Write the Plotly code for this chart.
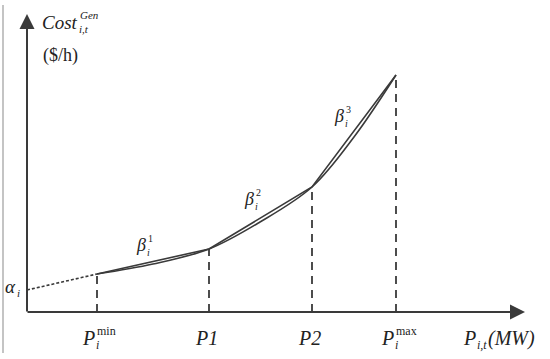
import plotly.graph_objects as go

# breakpoints of the piecewise linearisation (MW, $/h)
p_break = [70, 182, 285, 369]
cost_break = [38, 63, 125, 237]
p_labels = ["P", "P1", "P2", "P"]
p_sup = ["min", "", "", "max"]
p_sub = ["i", "", "", "i"]
alpha = 22

# the real (convex) cost curve
curve_p = [70, 126, 182, 233, 285, 327, 369]
curve_cost = [38, 48, 63, 90, 125, 175, 237]

# slope labels
beta_sup = ["1", "2", "3"]
beta_x = [121, 229, 319]
beta_y = [67, 113, 196]

INK = "#3a3a3a"
FONT = "Liberation Serif"

fig = go.Figure()

# dotted extension down to the intercept
fig.add_trace(go.Scatter(x=[0, p_break[0]], y=[alpha, cost_break[0]], mode="lines",
                         line=dict(color=INK, width=1.6, dash="3px,2px"), hoverinfo="skip"))
# chords
fig.add_trace(go.Scatter(x=p_break, y=cost_break, mode="lines",
                         line=dict(color=INK, width=1.6), hoverinfo="skip"))
# cost curve
fig.add_trace(go.Scatter(x=curve_p, y=curve_cost, mode="lines",
                         line=dict(color=INK, width=1.6, shape="spline", smoothing=1),
                         hoverinfo="skip"))
# dashed drop lines
for p, c in zip(p_break, cost_break):
    fig.add_trace(go.Scatter(x=[p, p], y=[0, c], mode="lines",
                             line=dict(color=INK, width=1.8, dash="8px,6px"), hoverinfo="skip"))

# axes with arrows
fig.add_annotation(x=0, y=298, ax=0, ay=-1, xref="x", yref="y", axref="x", ayref="y",
                   text="", showarrow=True, arrowhead=2, arrowsize=1.5, arrowwidth=2, arrowcolor=INK)
fig.add_annotation(x=498, y=0, ax=-1, ay=0, xref="x", yref="y", axref="x", ayref="y",
                   text="", showarrow=True, arrowhead=2, arrowsize=1.5, arrowwidth=2, arrowcolor=INK)

# thin frame line on the left
fig.add_shape(type="line", x0=-24, x1=-24, y0=307, y1=-41, line=dict(color="#c4c4c4", width=2))


def label(x, y, base, sup="", sub="", size=19):
    fig.add_annotation(x=x, y=y, text=f"<i>{base}</i>", showarrow=False, xanchor="right",
                       font=dict(family=FONT, size=size, color="#222"))
    small = int(size * 0.6)
    if sup:
        fig.add_annotation(x=x, y=y, text=f"<i>{sup}</i>" if sup == "Gen" else sup,
                           showarrow=False, xanchor="left", yshift=7, xshift=-2,
                           font=dict(family=FONT, size=small, color="#222"))
    if sub:
        fig.add_annotation(x=x, y=y, text=f"<i>{sub}</i>", showarrow=False, xanchor="left",
                           yshift=-7, xshift=-3, font=dict(family=FONT, size=small, color="#222"))


label(53, 290, "Cost", "Gen", "i,t", size=19)
fig.add_annotation(x=33, y=257, text="($/h)", showarrow=False,
                   font=dict(family=FONT, size=18, color="#222"))
label(-9, 26, "α", "", "i", size=19)

for s, bx, by in zip(beta_sup, beta_x, beta_y):
    label(bx, by, "β", s, "i", size=18)

for p, lab, sp, sb in zip(p_break, p_labels, p_sup, p_sub):
    if sp:
        label(p, -26, lab, sp, sb, size=20)
    else:
        fig.add_annotation(x=p - 3, y=-26, text=f"<i>{lab}</i>", showarrow=False,
                           font=dict(family=FONT, size=20, color="#222"))

label(451, -26, "P", "", "i,t", size=20)
fig.add_annotation(x=459, y=-26, text="<i>(MW)</i>", showarrow=False, xanchor="left",
                   font=dict(family=FONT, size=20, color="#222"))

fig.update_layout(
    width=550, height=359, margin=dict(l=0, r=0, t=0, b=0),
    paper_bgcolor="white", plot_bgcolor="white", showlegend=False,
    xaxis=dict(range=[-27, 523], visible=False, fixedrange=True),
    yaxis=dict(range=[-47, 312], visible=False, fixedrange=True),
)

fig.write_html("out.html", config={"displayModeBar": False},
               post_script="document.body.style.margin='0';")
